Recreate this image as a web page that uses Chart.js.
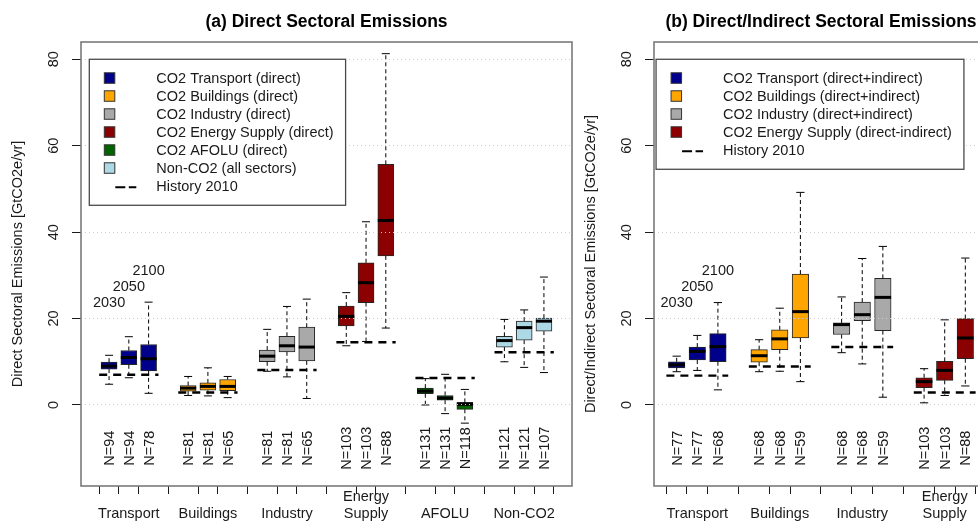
<!DOCTYPE html>
<html>
<head>
<meta charset="utf-8">
<title>Sectoral Emissions</title>
<script src="https://cdn.jsdelivr.net/npm/chart.js@4.4.1/dist/chart.umd.min.js"></script>
<style>
  html, body { margin: 0; padding: 0; background: #fff; overflow: hidden; width: 978px; height: 525px; }
  #wrap { position: relative; width: 978px; height: 525px; overflow: hidden; }
  #direct { position: absolute; left: 0; top: 0; width: 620px; height: 525px; }
  #indirect { position: absolute; left: 573px; top: 0; width: 422px; height: 525px; }
</style>
</head>
<body>
<div id="wrap">
  <canvas id="direct" width="620" height="525"></canvas>
  <canvas id="indirect" width="422" height="525"></canvas>
</div>
<script>
// ---- data ---------------------------------------------------------------
const years = ['2030', '2050', '2100'];
const yTickValues = [0, 20, 40, 60, 80];

// Panel (a): direct emissions, boxes ordered sector by sector, 2030/2050/2100
const directTickLabels = ['Transport', 'Buildings', 'Industry', ['Energy', 'Supply'], 'AFOLU', 'Non-CO2'];
const directLegend = ['CO2 Transport (direct)', 'CO2 Buildings (direct)', 'CO2 Industry (direct)',
  'CO2 Energy Supply (direct)', 'CO2 AFOLU (direct)', 'Non-CO2 (all sectors)'];
const directMax = [11.5, 15.8, 23.8, 6.6, 8.6, 6.6, 17.5, 22.8, 24.5, 26.0, 42.4, 81.3, 6.1, 7.1, 3.6, 19.8, 22.0, 29.6];
const directQ3  = [9.9, 12.6, 14.0, 4.5, 5.1, 5.9, 12.7, 15.9, 18.0, 22.9, 32.9, 55.7, 3.9, 2.2, 0.6, 15.9, 19.4, 20.1];
const directMed = [9.0, 11.0, 10.7, 3.9, 4.3, 4.3, 11.3, 13.7, 13.4, 20.5, 28.3, 42.7, 3.2, 1.6, 0.15, 14.9, 17.9, 19.4];
const directQ1  = [8.3, 9.3, 7.9, 3.2, 3.4, 3.3, 10.0, 12.3, 10.2, 18.3, 23.7, 34.5, 2.6, 1.1, -1.0, 13.4, 15.0, 17.1];
const directMin = [4.8, 6.3, 2.7, 2.2, 2.1, 1.7, 7.8, 6.5, 1.5, 13.7, 14.7, 17.8, 0.0, -2.0, -4.2, 10.0, 8.7, 7.5];
const directN   = [94, 94, 78, 81, 81, 65, 81, 81, 65, 103, 103, 88, 131, 131, 118, 121, 121, 107];
const directHistory = [7.0, 2.9, 8.1, 14.5, 6.25, 12.2];

// Panel (b): direct + indirect emissions
const indirectTickLabels = ['Transport', 'Buildings', 'Industry', ['Energy', 'Supply']];
const indirectLegend = ['CO2 Transport (direct+indirect)', 'CO2 Buildings (direct+indirect)',
  'CO2 Industry (direct+indirect)', 'CO2 Energy Supply (direct-indirect)'];
const indirectMax = [11.3, 16.1, 23.7, 15.1, 22.4, 49.2, 25.0, 33.9, 36.7, 8.4, 19.7, 34.0];
const indirectQ3  = [10.0, 13.4, 16.5, 12.8, 17.4, 30.3, 19.0, 23.8, 29.3, 6.3, 10.1, 20.0];
const indirectMed = [9.3, 12.4, 13.5, 11.4, 15.3, 21.6, 18.6, 20.9, 24.9, 5.4, 8.0, 15.5];
const indirectQ1  = [8.6, 10.4, 10.0, 9.9, 12.8, 15.5, 16.3, 19.5, 17.2, 4.0, 5.7, 10.7];
const indirectMin = [7.7, 8.0, 3.5, 7.7, 7.8, 5.4, 12.1, 9.5, 1.8, 0.5, 2.2, 4.4];
const indirectN   = [77, 77, 68, 68, 68, 59, 68, 68, 59, 103, 103, 88];
const indirectHistory = [6.8, 8.9, 13.4, 2.9];

// ---- styling ------------------------------------------------------------
const sectorColors = ['#00008B', '#FFA500', '#A9A9A9', '#8B0000', '#006400', '#ADD8E6'];
const FAMILY = '"Liberation Sans", Arial, Helvetica, sans-serif';
const INK = '#1a1a1a';
const FONT_PX = 14.5;

// box k (0..2) of sector group g sits at 1,2,3 / 5,6,7 / ...
function groupPos(g, k) { return g * 4 + k + 1; }

function line(ctx, x1, y1, x2, y2) {
  ctx.beginPath(); ctx.moveTo(x1, y1); ctx.lineTo(x2, y2); ctx.stroke();
}

function makePanel(canvasId, cfg) {
  const nGroups = cfg.tickLabels.length;
  const boxPositions = [];
  for (let g = 0; g < nGroups; g++) for (let k = 0; k < 3; k++) boxPositions.push(groupPos(g, k));

  const datasets = cfg.tickLabels.map((lab, g) => ({
    label: cfg.legend[g],
    data: [0, 1, 2].map(k => {
      const i = g * 3 + k;
      return { x: groupPos(g, k), y: [cfg.q1[i], cfg.q3[i]] };
    }),
    backgroundColor: sectorColors[g],
    borderColor: '#262626',
    borderWidth: 1,
    borderSkipped: false,
    barThickness: cfg.boxWidth,
    grouped: false
  }));

  const boxParts = {
    id: 'boxParts',
    afterDatasetsDraw(chart) {
      const { ctx } = chart;
      const xs = chart.scales.x, ys = chart.scales.y;
      ctx.save();
      ctx.strokeStyle = '#000';
      boxPositions.forEach((p, i) => {
        const cx = xs.getPixelForValue(p);
        const half = cfg.boxWidth / 2, staple = cfg.boxWidth / 4;
        const yMax = ys.getPixelForValue(cfg.max[i]);
        const yQ3 = ys.getPixelForValue(cfg.q3[i]);
        const yMed = ys.getPixelForValue(cfg.med[i]);
        const yQ1 = ys.getPixelForValue(cfg.q1[i]);
        const yMin = ys.getPixelForValue(cfg.min[i]);
        // whiskers
        ctx.lineWidth = 1;
        ctx.setLineDash([4, 3]);
        line(ctx, cx, yQ3, cx, yMax);
        line(ctx, cx, yQ1, cx, yMin);
        // staples
        ctx.setLineDash([]);
        line(ctx, cx - staple, yMax, cx + staple, yMax);
        line(ctx, cx - staple, yMin, cx + staple, yMin);
        // median
        ctx.lineWidth = 3;
        line(ctx, cx - half, yMed, cx + half, yMed);
      });
      ctx.restore();
    },
    afterDraw(chart) {
      const { ctx, chartArea: ca } = chart;
      const xs = chart.scales.x, ys = chart.scales.y;
      ctx.save();

      // frame around the plotting region
      ctx.strokeStyle = '#7a7a7a';
      ctx.lineWidth = 1.6;
      ctx.strokeRect(ca.left, ca.top, ca.right - ca.left, ca.bottom - ca.top);

      // 2010 history level for each sector
      ctx.strokeStyle = '#000';
      ctx.lineWidth = 2.4;
      ctx.setLineDash([8, 6]);
      cfg.history.forEach((h, g) => {
        const x1 = xs.getPixelForValue(groupPos(g, 0) - 0.5);
        const x2 = xs.getPixelForValue(groupPos(g, 2) + 0.5);
        const y = ys.getPixelForValue(h);
        line(ctx, x1, y, x2, y);
      });
      ctx.setLineDash([]);

      ctx.font = FONT_PX + 'px ' + FAMILY;
      ctx.fillStyle = INK;
      ctx.textAlign = 'center';
      ctx.textBaseline = 'middle';

      // year labels over the first group
      years.forEach((yr, k) => {
        ctx.fillText(yr, xs.getPixelForValue(groupPos(0, k)), ys.getPixelForValue(cfg.yearLevels[k]));
      });

      // sample sizes, written vertically below each box
      boxPositions.forEach((p, i) => {
        ctx.save();
        ctx.translate(xs.getPixelForValue(p) + 1, ys.getPixelForValue(cfg.nLevel));
        ctx.rotate(-Math.PI / 2);
        ctx.fillText('N=' + cfg.n[i], 0, 0);
        ctx.restore();
      });

      // legend
      const lx = xs.getPixelForValue(0), ly = ys.getPixelForValue(80);
      const entries = cfg.legend.concat(['History 2010']);
      const textOff = 67;
      let maxW = 0;
      entries.forEach(t => { maxW = Math.max(maxW, ctx.measureText(t).width); });
      const lw = textOff + maxW + 12;
      const lh = entries.length * 18 + 20;
      ctx.fillStyle = '#fff';
      ctx.fillRect(lx, ly, lw, lh);
      ctx.strokeStyle = '#4a4a4a';
      ctx.lineWidth = 1.3;
      ctx.strokeRect(lx, ly, lw, lh);
      ctx.textAlign = 'left';
      entries.forEach((t, i) => {
        const cy = ly + 20 + 18 * i;
        if (i < cfg.legend.length) {
          ctx.fillStyle = sectorColors[i];
          ctx.fillRect(lx + 15, cy - 6.5, 10.5, 10.5);
          ctx.strokeStyle = '#333';
          ctx.lineWidth = 1;
          ctx.strokeRect(lx + 15, cy - 6.5, 10.5, 10.5);
        } else {
          ctx.strokeStyle = '#000';
          ctx.lineWidth = 2;
          ctx.setLineDash([10, 3.5]);
          line(ctx, lx + 26, cy, lx + 47, cy);
          ctx.setLineDash([]);
        }
        ctx.fillStyle = INK;
        ctx.fillText(t, lx + textOff, cy);
      });

      // panel title
      ctx.font = 'bold 17.5px ' + FAMILY;
      ctx.fillStyle = '#000';
      ctx.textAlign = 'center';
      ctx.fillText(cfg.title, (ca.left + ca.right) / 2, 22);

      ctx.restore();
    }
  };

  const tickFont = { family: FAMILY, size: FONT_PX, lineHeight: 1.2 };

  return new Chart(document.getElementById(canvasId), {
    type: 'bar',
    data: { datasets },
    options: {
      responsive: false,
      animation: false,
      events: [],
      layout: { padding: { left: 0, right: cfg.padRight, top: 42, bottom: 0 } },
      plugins: {
        legend: { display: false },
        tooltip: { enabled: false },
        title: { display: false }
      },
      scales: {
        x: {
          type: 'linear',
          min: cfg.xMin,
          max: cfg.xMax,
          offset: false,
          afterBuildTicks: s => { s.ticks = boxPositions.map(v => ({ value: v })); },
          afterFit: s => { s.height = 39; },
          ticks: {
            autoSkip: false,
            minRotation: 0,
            maxRotation: 0,
            padding: 3,
            crossAlign: 'far',
            color: INK,
            font: tickFont,
            callback: v => {
              const g = (v - 2) / 4;
              return Number.isInteger(g) && g >= 0 && g < nGroups ? cfg.tickLabels[g] : '';
            }
          },
          grid: { drawOnChartArea: false, drawTicks: true, tickLength: 8, tickColor: INK, tickWidth: 1 },
          border: { display: false }
        },
        y: {
          type: 'linear',
          min: -18.75,
          max: 84,
          afterBuildTicks: s => { s.ticks = yTickValues.map(v => ({ value: v })); },
          afterFit: s => { s.width = 81; },
          ticks: {
            autoSkip: false,
            minRotation: 90,
            maxRotation: 90,
            crossAlign: 'center',
            padding: 9.5,
            color: INK,
            font: tickFont
          },
          grid: {
            color: '#cdcdcd',
            lineWidth: 1,
            z: 1,
            drawTicks: true,
            tickLength: 9,
            tickColor: INK,
            tickWidth: 1,
            tickBorderDash: []
          },
          border: { display: false, dash: [1, 3] },
          title: {
            display: true,
            text: cfg.yTitle,
            color: INK,
            font: { family: FAMILY, size: FONT_PX, lineHeight: 1.2 },
            padding: { top: 9, bottom: 0 }
          }
        }
      }
    },
    plugins: [boxParts]
  });
}

makePanel('direct', {
  title: '(a) Direct Sectoral Emissions',
  yTitle: 'Direct Sectoral Emissions [GtCO2e/yr]',
  tickLabels: directTickLabels,
  legend: directLegend,
  max: directMax, q3: directQ3, med: directMed, q1: directQ1, min: directMin,
  n: directN,
  history: directHistory,
  xMin: -0.42, xMax: 24.42,
  padRight: 48,
  boxWidth: 16,
  yearLevels: [23.6, 27.4, 31.1],
  nLevel: -10
});

makePanel('indirect', {
  title: '(b) Direct/Indirect Sectoral Emissions',
  yTitle: 'Direct/Indirect Sectoral Emissions [GtCO2e/yr]',
  tickLabels: indirectTickLabels,
  legend: indirectLegend,
  max: indirectMax, q3: indirectQ3, med: indirectMed, q1: indirectQ1, min: indirectMin,
  n: indirectN,
  history: indirectHistory,
  xMin: -0.1, xMax: 16.1,
  padRight: 7,
  boxWidth: 16.5,
  yearLevels: [23.6, 27.4, 31.1],
  nLevel: -10
});
</script>
</body>
</html>
